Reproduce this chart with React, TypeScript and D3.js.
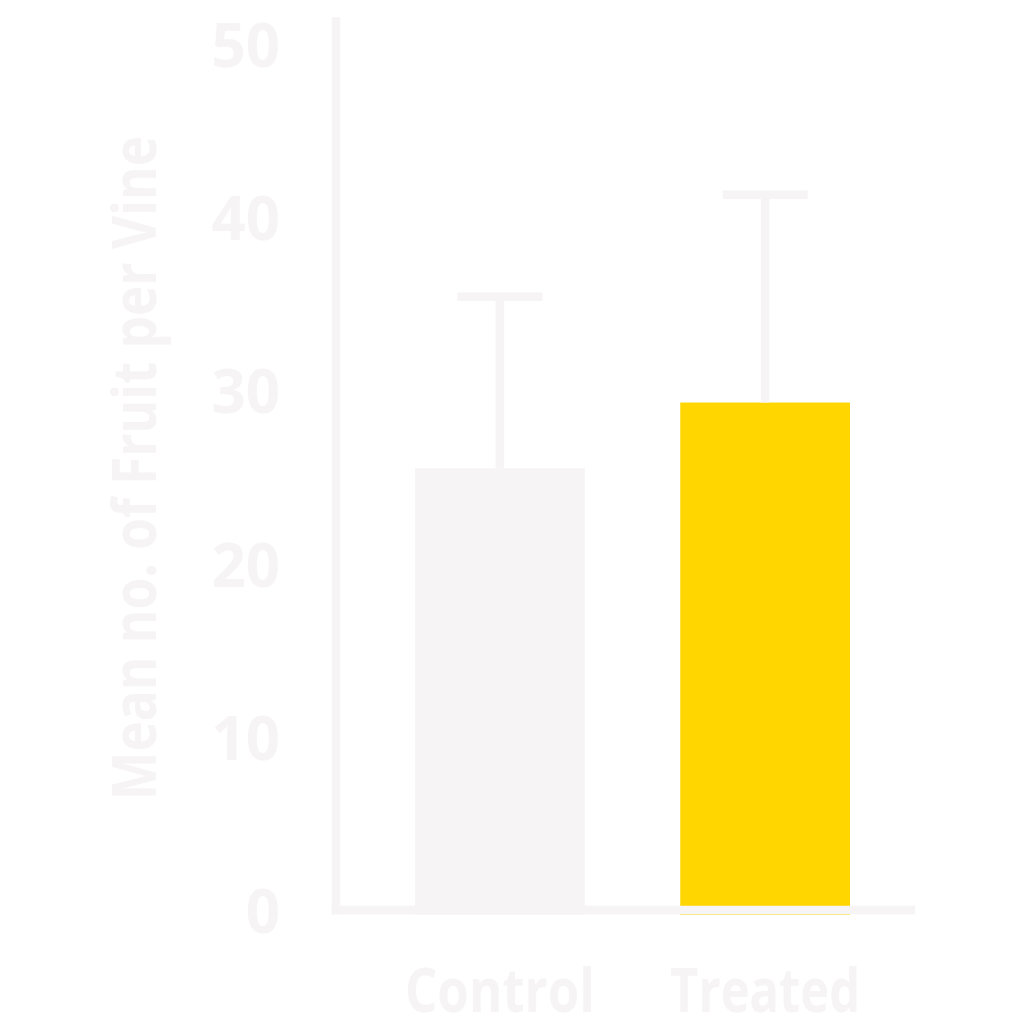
import { useEffect, useRef } from 'react';
import * as d3 from 'd3';

// Chart data
const categories = ['Control', 'Treated'];
const means = [25.5, 29.3];
const errors = [9.9, 12.0];
const barColors = ['#f6f4f4', '#ffd600'];
const yTicks = [0, 10, 20, 30, 40, 50];
const yTitle = 'Mean no. of Fruit per Vine';

const INK = '#f6f4f4';
const FONT = '"Open Sans", "DejaVu Sans", sans-serif';

export default function App() {
    const svgRef = useRef<SVGSVGElement>(null);

    useEffect(() => {
        if (!svgRef.current) return;

        const svg = d3.select(svgRef.current);
        svg.selectAll('*').remove();

        const data = categories.map((c, i) => ({
            category: c,
            mean: means[i],
            err: errors[i],
            color: barColors[i]
        }));

        // Scales
        const y = d3.scaleLinear().domain([0, 50]).range([910, 44]);
        const x = d3.scaleBand()
            .domain(categories)
            .range([415, 850])
            .paddingInner(0.36)
            .paddingOuter(0);

        const axisLeft = 336;
        const axisTop = y(51.55);
        const axisRight = 915;
        const stroke = 8.5;

        // Bars (run just under the x axis line)
        svg.selectAll('.bar')
            .data(data)
            .enter()
            .append('rect')
            .attr('class', 'bar')
            .attr('x', d => x(d.category) || 0)
            .attr('y', d => y(d.mean))
            .attr('width', x.bandwidth())
            .attr('height', d => y(0) + 4.6 - y(d.mean))
            .attr('fill', d => d.color);

        // Error bars (upper only)
        const eb = svg.selectAll('.err')
            .data(data)
            .enter()
            .append('g')
            .attr('class', 'err')
            .attr('transform', d => `translate(${(x(d.category) || 0) + x.bandwidth() / 2},0)`);

        eb.append('line')
            .attr('x1', 0)
            .attr('x2', 0)
            .attr('y1', d => y(d.mean))
            .attr('y2', d => y(d.mean + d.err))
            .attr('stroke', INK)
            .attr('stroke-width', stroke);

        eb.append('line')
            .attr('x1', -42.5)
            .attr('x2', 42.5)
            .attr('y1', d => y(d.mean + d.err))
            .attr('y2', d => y(d.mean + d.err))
            .attr('stroke', INK)
            .attr('stroke-width', stroke);

        // Axis lines
        svg.append('line')
            .attr('x1', axisLeft)
            .attr('x2', axisLeft)
            .attr('y1', axisTop)
            .attr('y2', y(0) + stroke / 2)
            .attr('stroke', INK)
            .attr('stroke-width', stroke);

        svg.append('line')
            .attr('x1', axisLeft - stroke / 2)
            .attr('x2', axisRight)
            .attr('y1', y(0))
            .attr('y2', y(0))
            .attr('stroke', INK)
            .attr('stroke-width', stroke);

        // Y tick labels
        svg.selectAll('.ytick')
            .data(yTicks)
            .enter()
            .append('text')
            .attr('class', 'ytick')
            .attr('x', 280)
            .attr('y', d => y(d))
            .attr('text-anchor', 'end')
            .attr('dominant-baseline', 'central')
            .attr('fill', INK)
            .attr('font-family', FONT)
            .attr('font-weight', 700)
            .attr('font-size', '60px')
            .text(d => d);

        // Category labels
        svg.selectAll('.xlabel')
            .data(data)
            .enter()
            .append('text')
            .attr('class', 'xlabel')
            .attr('x', d => (x(d.category) || 0) + x.bandwidth() / 2)
            .attr('y', 1012)
            .attr('text-anchor', 'middle')
            .attr('fill', INK)
            .attr('font-family', FONT)
            .attr('font-weight', 700)
            .attr('font-size', '60px')
            .attr('textLength', 190)
            .attr('lengthAdjust', 'spacingAndGlyphs')
            .text(d => d.category);

        // Y axis title
        svg.append('text')
            .attr('transform', 'translate(156,468) rotate(-90)')
            .attr('text-anchor', 'middle')
            .attr('fill', INK)
            .attr('font-family', FONT)
            .attr('font-weight', 700)
            .attr('font-size', '60px')
            .attr('textLength', 664)
            .attr('lengthAdjust', 'spacingAndGlyphs')
            .text(yTitle);
    }, []);

    return (
        <svg
            ref={svgRef}
            width={1024}
            height={1024}
            style={{ position: 'absolute', left: 0, top: 0, background: '#ffffff' }}
        />
    );
}
